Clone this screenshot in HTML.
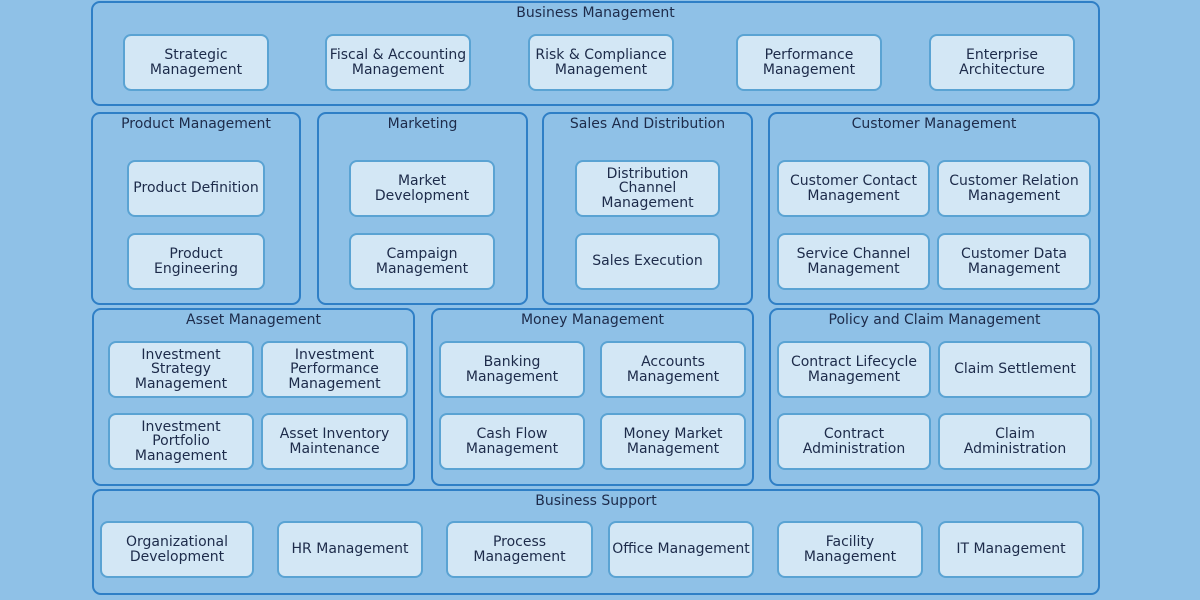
<!DOCTYPE html>
<html><head><meta charset="utf-8"><style>
*{margin:0;padding:0;box-sizing:border-box}
body{width:1200px;height:600px;background:#8fc1e7;position:relative;overflow:hidden;font-family:"DejaVu Sans","Liberation Sans",sans-serif;color:#1d2b4a;font-size:14px}
.c{position:absolute;border:2px solid #2f7fc6;border-radius:9px;background:#8fc1e7}
.c>.t{position:absolute;left:0;right:0;top:2px;text-align:center;font-size:14px}
.b{position:absolute;border:2px solid #5aa3d3;border-radius:8px;background:#d3e7f5;display:flex;align-items:center;justify-content:center;text-align:center;line-height:14.5px;font-size:14px}
</style></head><body>
<div class="c" style="left:91px;top:1px;width:1009px;height:105px"><div class="t">Business Management</div></div>
<div class="c" style="left:91px;top:112px;width:210px;height:193px"><div class="t">Product Management</div></div>
<div class="c" style="left:317px;top:112px;width:211px;height:193px"><div class="t">Marketing</div></div>
<div class="c" style="left:542px;top:112px;width:211px;height:193px"><div class="t">Sales And Distribution</div></div>
<div class="c" style="left:768px;top:112px;width:332px;height:193px"><div class="t">Customer Management</div></div>
<div class="c" style="left:92px;top:308px;width:323px;height:178px"><div class="t">Asset Management</div></div>
<div class="c" style="left:431px;top:308px;width:323px;height:178px"><div class="t">Money Management</div></div>
<div class="c" style="left:769px;top:308px;width:331px;height:178px"><div class="t">Policy and Claim Management</div></div>
<div class="c" style="left:92px;top:489px;width:1008px;height:106px"><div class="t">Business Support</div></div>

<div class="b" style="left:123px;top:34px;width:146px;height:57px">Strategic<br>Management</div>
<div class="b" style="left:325px;top:34px;width:146px;height:57px">Fiscal &amp; Accounting<br>Management</div>
<div class="b" style="left:528px;top:34px;width:146px;height:57px">Risk &amp; Compliance<br>Management</div>
<div class="b" style="left:736px;top:34px;width:146px;height:57px">Performance<br>Management</div>
<div class="b" style="left:929px;top:34px;width:146px;height:57px">Enterprise<br>Architecture</div>

<div class="b" style="left:127px;top:160px;width:138px;height:57px">Product Definition</div>
<div class="b" style="left:127px;top:233px;width:138px;height:57px">Product<br>Engineering</div>
<div class="b" style="left:349px;top:160px;width:146px;height:57px">Market<br>Development</div>
<div class="b" style="left:349px;top:233px;width:146px;height:57px">Campaign<br>Management</div>
<div class="b" style="left:575px;top:160px;width:145px;height:57px">Distribution<br>Channel<br>Management</div>
<div class="b" style="left:575px;top:233px;width:145px;height:57px">Sales Execution</div>
<div class="b" style="left:777px;top:160px;width:153px;height:57px">Customer Contact<br>Management</div>
<div class="b" style="left:937px;top:160px;width:154px;height:57px">Customer Relation<br>Management</div>
<div class="b" style="left:777px;top:233px;width:153px;height:57px">Service Channel<br>Management</div>
<div class="b" style="left:937px;top:233px;width:154px;height:57px">Customer Data<br>Management</div>

<div class="b" style="left:108px;top:341px;width:146px;height:57px">Investment<br>Strategy<br>Management</div>
<div class="b" style="left:261px;top:341px;width:147px;height:57px">Investment<br>Performance<br>Management</div>
<div class="b" style="left:108px;top:413px;width:146px;height:57px">Investment<br>Portfolio<br>Management</div>
<div class="b" style="left:261px;top:413px;width:147px;height:57px">Asset Inventory<br>Maintenance</div>
<div class="b" style="left:439px;top:341px;width:146px;height:57px">Banking<br>Management</div>
<div class="b" style="left:600px;top:341px;width:146px;height:57px">Accounts<br>Management</div>
<div class="b" style="left:439px;top:413px;width:146px;height:57px">Cash Flow<br>Management</div>
<div class="b" style="left:600px;top:413px;width:146px;height:57px">Money Market<br>Management</div>
<div class="b" style="left:777px;top:341px;width:154px;height:57px">Contract Lifecycle<br>Management</div>
<div class="b" style="left:938px;top:341px;width:154px;height:57px">Claim Settlement</div>
<div class="b" style="left:777px;top:413px;width:154px;height:57px">Contract<br>Administration</div>
<div class="b" style="left:938px;top:413px;width:154px;height:57px">Claim<br>Administration</div>

<div class="b" style="left:100px;top:521px;width:154px;height:57px">Organizational<br>Development</div>
<div class="b" style="left:277px;top:521px;width:146px;height:57px">HR Management</div>
<div class="b" style="left:446px;top:521px;width:147px;height:57px">Process<br>Management</div>
<div class="b" style="left:608px;top:521px;width:146px;height:57px">Office Management</div>
<div class="b" style="left:777px;top:521px;width:146px;height:57px">Facility<br>Management</div>
<div class="b" style="left:938px;top:521px;width:146px;height:57px">IT Management</div>
</body></html>
